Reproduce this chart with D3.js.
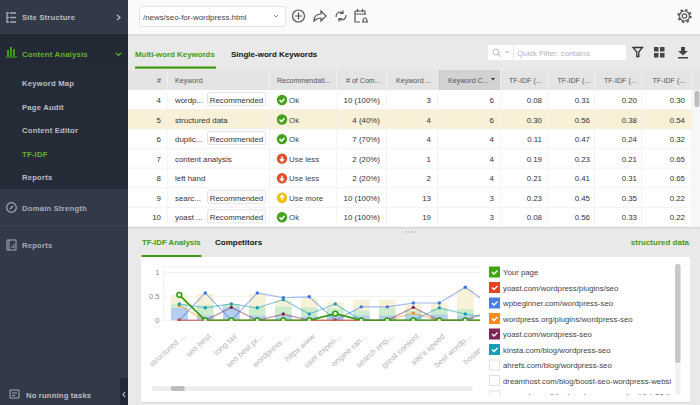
<!DOCTYPE html>
<html>
<head>
<meta charset="utf-8">
<script src="https://cdn.jsdelivr.net/npm/d3@7"></script>
<style>
  html, body { margin: 0; padding: 0; background: #e9e9e9; overflow: hidden; }
  svg { display: block; font-family: "Liberation Sans", Arial, sans-serif; }
  .side { font-weight: bold; letter-spacing: .2px; }
</style>
</head>
<body>
<svg id="app" width="700" height="405"></svg>
<script>
// chart data
const categories = ["structured ...", "seo best", "long tail", "seo best pr...", "wordpress ...", "https www", "user experi...", "engine ran...", "search eng...", "great content", "site's speed", "best wordp...", "hosting pr...", "plugin"];
const barBlue = [0.26, 0.10, 0.27, 0.10, 0.10, 0.08, 0.10, 0.10, 0.10, 0.12, 0.12, 0.09, 0.10, 0.10];
const barGreen = [0.34, 0.32, 0.34, 0.28, 0.29, 0.27, 0.25, 0.20, 0.26, 0.20, 0.24, 0.23, 0.20, 0.20];
const barYellow = [0.53, 0.55, 0.34, 0.55, 0.43, 0.47, 0.38, 0.43, 0.43, 0.33, 0.36, 0.66, 0.40, 0.40];
const yourPage = [0.53, 0, 0, 0, 0, 0, 0.14, 0, 0, 0, 0, 0, 0, 0];
const yoastPlugins = [0, 0, 0, 0, 0, 0, 0, 0, 0, 0, 0, 0, 0, 0];
const wpbeginner = [0, 0.57, 0, 0.57, 0.47, 0.49, 0, 0.28, 0.28, 0.36, 0.36, 0.69, 0.30, 0.30];
const wordpressOrg = [0.31, 0, 0, 0, 0, 0, 0, 0, 0, 0.15, 0, 0, 0, 0];
const yoastSeo = [0, 0, 0.27, 0, 0.13, 0, 0, 0, 0, 0.27, 0, 0, 0.20, 0.20];
const kinsta = [0.34, 0.26, 0.34, 0.26, 0.43, 0.13, 0.34, 0, 0, 0, 0.26, 0.13, 0.05, 0.05];
const yTicks = [0, 0.5, 1];

// legend
const legendNames = ["Your page", "yoast.com/wordpress/plugins/seo", "wpbeginner.com/wordpress-seo", "wordpress.org/plugins/wordpress-seo", "yoast.com/wordpress-seo", "kinsta.com/blog/wordpress-seo", "ahrefs.com/blog/wordpress-seo", "dreamhost.com/blog/boost-seo-wordpress-websi", "semrush.com/blog/wordpress-seo-checklist-30-ti"];
const legendColors = ["#3fa60f", "#e2431e", "#4a7fe0", "#f58a1f", "#7f2357", "#1a9db5", null, null, null];

// table
const headers = ["#", "Keyword", "Recommendati...", "# of Com...", "Keyword ...", "Keyword C...", "TF-IDF (...", "TF-IDF (...", "TF-IDF (...", "TF-IDF (..."];
const rowIds = [4, 5, 6, 7, 8, 9, 10];
const keywords = ["wordp...", "structured data", "duplic...", "content analysis", "left hand", "searc...", "yoast ..."];
const recommended = [true, false, true, false, false, true, true];
const status = ["Ok", "Ok", "Ok", "Use less", "Use less", "Use more", "Ok"];
const competitors = ["10 (100%)", "4 (40%)", "7 (70%)", "2 (20%)", "2 (20%)", "10 (100%)", "10 (100%)"];
const kwCount = [3, 4, 4, 1, 2, 13, 19];
const kwCount2 = [6, 6, 4, 4, 4, 3, 3];
const tfidf1 = ["0.08", "0.30", "0.11", "0.19", "0.21", "0.23", "0.08"];
const tfidf2 = ["0.31", "0.56", "0.47", "0.23", "0.41", "0.45", "0.56"];
const tfidf3 = ["0.20", "0.38", "0.24", "0.21", "0.31", "0.35", "0.33"];
const tfidf4 = ["0.30", "0.54", "0.32", "0.65", "0.65", "0.22", "0.22"];

const menuItems = ["Keyword Map", "Page Audit", "Content Editor", "TF-IDF", "Reports"];

const svg = d3.select("#app");
const GREEN = "#3f9c12";

function rect(p, x, y, w, h, fill) {
  return p.append("rect").attr("x", x).attr("y", y).attr("width", w).attr("height", h).attr("fill", fill);
}
function label(p, x, y, str, size, fill, anchor) {
  return p.append("text").attr("x", x).attr("y", y).attr("font-size", size).attr("fill", fill)
    .attr("text-anchor", anchor || "start").text(str);
}

// background pieces
rect(svg, 128, 0, 572, 34, "#fafafa");
rect(svg, 128, 34, 572, 2, "#dcdcdc");
rect(svg, 128, 36, 572, 34, "#e9e9e9");

// sidebar
const side = svg.append("g").attr("class", "side");
rect(side, 0, 0, 128, 405, "#333a47");
rect(side, 0, 34, 128, 155, "#252b37");
rect(side, 0, 34, 128, 36, "#232935");
side.append("line").attr("x1", 0).attr("x2", 128).attr("y1", 225.5).attr("y2", 225.5).attr("stroke", "#3d4451");
label(side, 22, 20, "Site Structure", 7.7, "#b9bec8");
label(side, 22, 56.5, "Content Analysis", 7.7, "#62b32a");
menuItems.forEach((m, i) => {
  label(side, 22, 86 + i * 23.5, m, 7.7, m === "TF-IDF" ? "#62b32a" : "#b9bec8");
});
label(side, 22, 210.5, "Domain Strength", 7.7, "#a5abb6");
label(side, 22, 247.5, "Reports", 7.7, "#a5abb6");
label(side, 26, 398, "No running tasks", 7.6, "#b9bec8");
rect(side, 120, 378, 8, 27, "#222834");
function sPath(d, c, w) {
  return side.append("path").attr("d", d).attr("fill", "none").attr("stroke", c).attr("stroke-width", w || 1.2);
}
sPath("M117 15l3 2.5l-3 2.5", "#b9bec8");
sPath("M116 53l2.5 2.5l2.5-2.5", "#62b32a");
sPath("M125 392l-2 2.5l2 2.5", "#b9bec8");
// sidebar icons
sPath("M7 12v11M7 13h2M7 17.5h2M7 22h2M10 13h6M10 17.5h6M10 22h6", "#a5abb6", 1.3);
sPath("M6 57h11", GREEN, 1.3);
side.append("path").attr("d", "M7 50h2v6h-2zM10 47h2v9h-2zM13 49h2v7h-2z").attr("fill", GREEN);
side.append("circle").attr("cx", 11.5).attr("cy", 207.5).attr("r", 4.8).attr("fill", "none").attr("stroke", "#a5abb6").attr("stroke-width", 1.2);
sPath("M10 209l3-3", "#a5abb6");
sPath("M7 240h9v10h-9zM9 240v10M12 246v2M14 244v4", "#a5abb6", 1);
sPath("M10 390h9v8h-9zM12 393h5M12 395.5h3", "#a5abb6", 1);

// page select
rect(svg, 139.5, 6.5, 146, 20, "#fff").attr("stroke", "#e2e2e2").attr("rx", 2);
label(svg, 143, 20, "/news/seo-for-wordpress.html", 7.9, "#444");
svg.append("path").attr("d", "M274 15l2 2l2-2").attr("fill", "none").attr("stroke", "#888");

// toolbar icons
const bar = svg.append("g").attr("fill", "none").attr("stroke", "#555").attr("stroke-width", 1.2);
bar.append("circle").attr("cx", 298.5).attr("cy", 16).attr("r", 6);
bar.append("path").attr("d", "M295 16h7M298.5 12.5v7");
bar.append("path").attr("d", "M314 21c0-5 3-7 7-7v-3l5 5l-5 5v-3c-3 0-5 1-7 3z");
bar.append("path").attr("d", "M336 17c0-3 2-5 5-5l2 1M346 15c0 3-2 5-5 5l-2-1M343 10.5v3h-3M339 21.5v-3h3");
bar.append("path").attr("d", "M355 11h10v4M355 11v11h5M357.5 9v3M362.5 9v3M355 14h10M362 22h6M363 22c0-2 0-4 2-4s2 2 2 4");
bar.append("circle").attr("cx", 684.5).attr("cy", 16).attr("r", 2.2);
bar.append("circle").attr("cx", 684.5).attr("cy", 16).attr("r", 5);
bar.append("circle").attr("cx", 684.5).attr("cy", 16).attr("r", 6.3).attr("stroke-dasharray", "2.4 2.55").attr("stroke-width", 1.6);

// tabs
const tabs = svg.append("g").attr("font-weight", "bold");
label(tabs, 135, 57, "Multi-word Keywords", 7.9, GREEN);
label(tabs, 231, 57, "Single-word Keywords", 8, "#111");
rect(svg, 135, 66.5, 81, 2.2, GREEN);

// filter
rect(svg, 488, 45, 138, 15, "#fff").attr("rx", 1.5);
rect(svg, 513, 45, 1, 15, "#e6e6e6");
label(svg, 517, 56, "Quick Filter: contains", 7.8, "#b3b3b3");
svg.append("circle").attr("cx", 496).attr("cy", 52).attr("r", 3).attr("fill", "none").attr("stroke", "#bbb");
svg.append("path").attr("d", "M498 54l3 3M505 51l2 2l2-2").attr("fill", "none").attr("stroke", "#bbb");
svg.append("path").attr("d", "M633 47.5h9.5l-3.7 4.5v4.5h-2v-4.5z").attr("fill", "none").attr("stroke", "#333").attr("stroke-width", 1.3);
svg.append("path").attr("d", "M654 47h4.5v4.5h-4.5zM660 47h4.5v4.5h-4.5zM654 53h4.5v4.5h-4.5zM660 53h4.5v4.5h-4.5z").attr("fill", "#444");
svg.append("path").attr("d", "M681 47h4v4h3l-5 4.5l-5-4.5h3zM678 57h10v1.5h-10z").attr("fill", "#444");

// table
const colEdges = [128, 168, 270, 337, 387, 438, 501, 548, 595, 642, 692];
const rowH = 19.55;
const tableTop = 90;
rect(svg, 128, 70, 572, 20, "#e4e4e4");
rect(svg, 438, 70, 63, 20, "#d2d2d2");
rect(svg, 128, tableTop, 572, 138, "#fff");
rect(svg, 128, tableTop + rowH, 564, rowH, "#f8f1d8");
rowIds.forEach((_, i) => {
  rect(svg, 128, tableTop + rowH * (i + 1) - 0.5, 564, 1, "#f2f2f2");
});
colEdges.slice(1).forEach(x => {
  rect(svg, x - 1, 70, 1, 20, "#efefef");
  rect(svg, x - 1, tableTop, 1, 137, "#f3f3f3").attr("opacity", 0.8);
});
const hdrX = [161, 175, 277, 346, 396, 448, 509, 557.5, 604, 652.5];
headers.forEach((h, i) => {
  label(svg, hdrX[i], 83, h, 7.1, "#555", i === 0 ? "end" : "start");
});
svg.append("path").attr("d", "M491 78h4l-2 2.5z").attr("fill", "#333");

const rightCols = [[competitors, 380], [kwCount, 431], [kwCount2, 494], [tfidf1, 542], [tfidf2, 590], [tfidf3, 637], [tfidf4, 685]];
const statusColor = { "Ok": "#46a11c", "Use less": "#e2502a", "Use more": "#f4bc0e" };
rowIds.forEach((id, i) => {
  const y = tableTop + rowH * i + 13;
  const cy = y - 3;
  label(svg, 161, y, id, 7.9, "#333", "end");
  label(svg, 175, y, keywords[i], 7.9, "#333");
  if (recommended[i]) {
    rect(svg, 207.5, y - 10.5, 58, 13, "#fff").attr("stroke", "#e4e4e4").attr("rx", 1.5);
    label(svg, 236.5, y, "Recommended", 7.9, "#333", "middle");
  }
  svg.append("circle").attr("cx", 282).attr("cy", cy).attr("r", 5.2).attr("fill", statusColor[status[i]]);
  const mark = status[i] === "Ok" ? "M279.5 " + cy + "l2 2l3-3.2" : status[i] === "Use less" ? "M282 " + (cy - 2.5) + "v4M280 " + (cy + .5) + "l2 2l2-2" : "M282 " + (cy + 2.5) + "v-4M280 " + (cy - .5) + "l2-2l2 2";
  svg.append("path").attr("d", mark).attr("fill", "none").attr("stroke", "#fff").attr("stroke-width", 1.5);
  label(svg, 289, y, status[i], 7.9, "#444");
  rightCols.forEach(c => label(svg, c[1], y, c[0][i], 7.9, "#333", "end"));
});
// table scrollbar
rect(svg, 692, 90, 8, 138, "#f7f7f7");
rect(svg, 694.5, 91, 5, 16, "#bcbcbc").attr("rx", 2);

// splitter and lower tabs
rect(svg, 128, 227, 572, 178, "#e9e9e9");
rect(svg, 128, 227, 572, 1.5, "#d8d8d8");
svg.selectAll(".grip").data([406, 409, 412, 415]).join("circle").attr("cx", d => d).attr("cy", 232).attr("r", 0.7).attr("fill", "#aaa");
const tabs2 = svg.append("g").attr("font-weight", "bold");
label(tabs2, 142, 245, "TF-IDF Analysis", 7.8, GREEN);
label(tabs2, 215, 245, "Competitors", 8, "#111");
rect(svg, 141.5, 255, 60, 2.2, GREEN);
label(tabs2, 689, 245, "structured data", 8, GREEN, "end");
rect(svg, 141, 257, 549, 145, "#fff");
rect(svg, 141, 402, 549, 1, "#d9d9d9");

// chart
const margin = { left: 163.5, right: 480, top: 266.7, bottom: 320.3 };
const bandLeft = 166.3;
const bandW = 26;
const xs = d3.scaleBand().domain(categories).range([bandLeft, bandLeft + bandW * categories.length]).paddingInner(0.36).paddingOuter(0.18);
const xp = d3.scalePoint().domain(categories).range([bandLeft + bandW / 2, bandLeft + bandW * (categories.length - 0.5)]);
const ys = d3.scaleLinear().domain([0, 1]).range([margin.bottom, margin.bottom - 48]);

svg.append("clipPath").attr("id", "plot").append("rect")
  .attr("x", margin.left).attr("y", margin.top).attr("width", margin.right - margin.left).attr("height", margin.bottom + 0.5 - margin.top);

svg.append("path").attr("fill", "none").attr("stroke", "#f2f2f2")
  .attr("d", `M${margin.left} ${margin.bottom}V${margin.top}H${margin.right}`);
svg.append("g").selectAll("line").data(yTicks).join("line")
  .attr("x1", margin.left).attr("x2", margin.right)
  .attr("y1", d => ys(d)).attr("y2", d => ys(d)).attr("stroke", "#efefef");
const yAxis = d3.axisLeft(ys).tickValues(yTicks).tickSize(0).tickPadding(4).tickFormat(d => d);
const yg = svg.append("g").attr("transform", `translate(${margin.left},0)`).call(yAxis);
yg.select(".domain").remove();
yg.selectAll("text").attr("font-size", 7.5).attr("fill", "#888").attr("font-family", "inherit");

const plot = svg.append("g").attr("clip-path", "url(#plot)");

function bars(values, color) {
  plot.append("g").selectAll("rect").data(categories).join("rect")
    .attr("x", d => xs(d)).attr("width", xs.bandwidth())
    .attr("y", (d, i) => ys(values[i])).attr("height", (d, i) => ys(0) - ys(values[i]))
    .attr("fill", color);
}
bars(barYellow, "#f7f1d7");
bars(barGreen, "#cdeccd");
bars(barBlue, "#b4cfee");

const line = d3.line().x((d, i) => xp(categories[i])).y(d => ys(d));
function series(values, color) {
  plot.append("path").datum(values).attr("d", line).attr("fill", "none").attr("stroke", color)
    .attr("stroke-opacity", 0.5).attr("stroke-width", 1.2);
  plot.append("g").selectAll("circle").data(values).join("circle")
    .attr("cx", (d, i) => xp(categories[i])).attr("cy", d => ys(d)).attr("r", 1.7)
    .attr("fill", color);
}
series(wordpressOrg, "#f58a1f");
series(yoastSeo, "#7f2357");
series(wpbeginner, "#3f73e0");
series(kinsta, "#1a9db5");
series(yoastPlugins, "#e2431e");

plot.append("path").datum(yourPage).attr("d", line).attr("fill", "none").attr("stroke", "#2f9a0a").attr("stroke-width", 1.7);
plot.append("g").selectAll("circle").data(yourPage).join("circle")
  .attr("cx", (d, i) => xp(categories[i])).attr("cy", d => ys(d)).attr("r", 2.4)
  .attr("fill", "#fff").attr("stroke", "#2f9a0a").attr("stroke-width", 1.5);

// x labels, rotated and ending under the tick
svg.append("clipPath").attr("id", "labels").append("rect")
  .attr("x", margin.left - 20).attr("y", margin.bottom).attr("width", margin.right - margin.left + 20).attr("height", 60);
svg.append("g").attr("clip-path", "url(#labels)").selectAll("text").data(categories).join("text")
  .attr("transform", d => `translate(${xp(d) + 6},${margin.bottom + 17}) rotate(-42)`)
  .attr("text-anchor", "end").attr("font-size", 8).attr("fill", "#b4b4b4").text(d => d);

// chart scrollbar
rect(svg, 151.7, 386, 321, 5, "#eeeeee").attr("rx", 2.5);
rect(svg, 170.7, 386, 14, 5, "#bdbdbd").attr("rx", 2.5);

// legend
svg.append("clipPath").attr("id", "legendClip").append("rect").attr("x", 485).attr("y", 262).attr("width", 188).attr("height", 133);
const legend = svg.append("g").attr("clip-path", "url(#legendClip)");
legendNames.forEach((name, i) => {
  const y = 272 + i * 15.5;
  rect(legend, 489.5, y - 5, 10, 10, legendColors[i] || "#fff").attr("stroke", legendColors[i] || "#e0e0e0");
  if (legendColors[i]) legend.append("path").attr("d", `M492 ${y}l2 2l3.5-3.5`).attr("fill", "none").attr("stroke", "#fff").attr("stroke-width", 1.4);
  label(legend, 503, y + 3, name, 7.8, "#444");
});
rect(svg, 675, 264, 5.5, 131, "#f1f1f1").attr("rx", 2.5);
rect(svg, 675, 264, 5.5, 99, "#c8c8c8").attr("rx", 2.5);
</script>
</body>
</html>
